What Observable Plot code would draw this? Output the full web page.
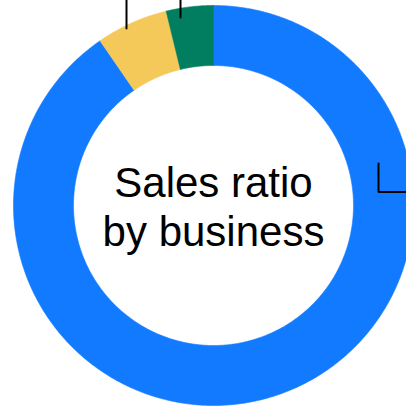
<!DOCTYPE html>
<html>
<head>
<meta charset="utf-8">
<script src="https://cdn.jsdelivr.net/npm/d3@7"></script>
<script src="https://cdn.jsdelivr.net/npm/@observablehq/plot@0.6"></script>
<style>
  html, body { margin: 0; padding: 0; background: #fff; }
  #chart svg { display: block; }
</style>
</head>
<body>
<div id="chart"></div>
<script>
// ---- data ----
const businesses = ["Business A", "Business B", "Business C"];
const shares = [90.4, 5.8, 3.8];            // % of sales
const colors = ["#127afe", "#f4c95a", "#007e5f"];
const centerTitle = "Sales ratio\nby business";
// leader lines toward (off-canvas) labels, in unit-radius coordinates
const leaderB = [[-0.435, 0.885], [-0.435, 1.06]];
const leaderC = [[-0.165, 0.94], [-0.165, 1.06]];
const leaderA = [[0.825, 0.21], [0.825, 0.0675], [1.1, 0.0675]];

// ---- geometry from data ----
const innerR = 0.7, outerR = 1;
const pie = d3.pie().sort(null).value(d => d.value);
const arcs = pie(businesses.map((b, i) => ({name: b, value: shares[i], color: colors[i]})));

function ringPolygon(a) {
  const n = Math.max(4, Math.ceil((a.endAngle - a.startAngle) / 0.01));
  const pts = [];
  for (let k = 0; k <= n; k++) {
    const t = a.startAngle + (a.endAngle - a.startAngle) * k / n;
    pts.push({x: outerR * Math.sin(t), y: outerR * Math.cos(t)});
  }
  for (let k = n; k >= 0; k--) {
    const t = a.startAngle + (a.endAngle - a.startAngle) * k / n;
    pts.push({x: innerR * Math.sin(t), y: innerR * Math.cos(t)});
  }
  pts.push(pts[0]);
  return pts;
}

const sliceMarks = arcs.map(a =>
  Plot.line(ringPolygon(a), {
    x: "x", y: "y", fill: a.data.color, stroke: a.data.color,
    strokeWidth: 0.6, curve: "linear"
  })
);

const leaderMarks = [leaderA, leaderB, leaderC].map(l =>
  Plot.line(l, {x: d => d[0], y: d => d[1], stroke: "#000", strokeWidth: 2, strokeLinejoin: "miter"})
);

const chart = Plot.plot({
  width: 406,
  height: 407,
  margin: 0,
  x: {domain: [-1.065, 0.965], axis: null},
  y: {domain: [-1.01, 1.025], axis: null},
  style: {background: "#fff"},
  marks: [
    ...sliceMarks,
    ...leaderMarks,
    Plot.text([centerTitle], {
      x: () => 0, y: () => 0, text: d => d,
      fontSize: 42, lineHeight: 1.19, lineAnchor: "middle",
      fontFamily: "Liberation Sans, Arial, sans-serif",
      fill: "#000", dy: 0, dx: 0
    })
  ]
});
document.getElementById("chart").appendChild(chart);
</script>
</body>
</html>
